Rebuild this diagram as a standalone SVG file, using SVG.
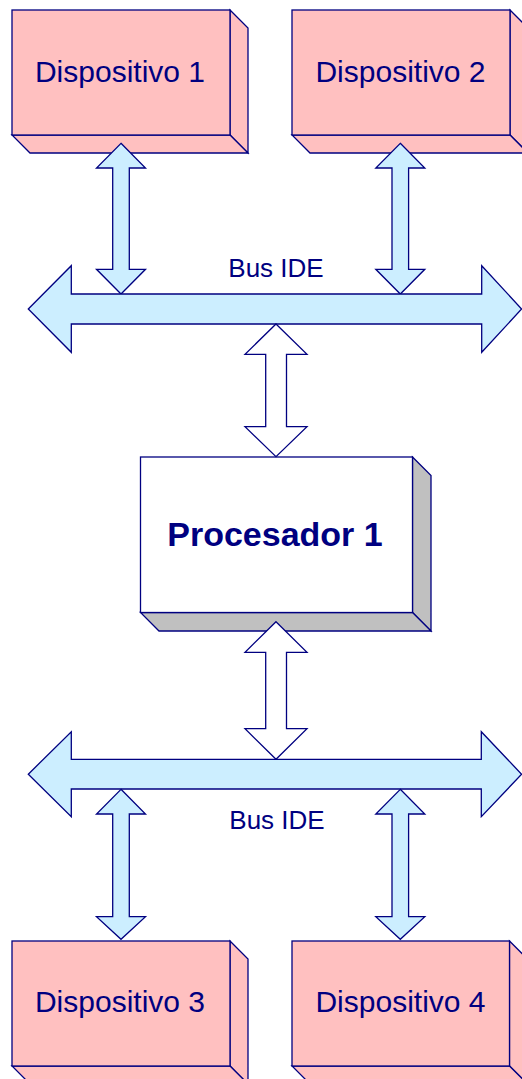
<svg xmlns="http://www.w3.org/2000/svg" width="522" height="1079" viewBox="0 0 522 1079">
<style>
.face{fill:#ffc0c0;stroke:#000080;stroke-width:1.3;stroke-linejoin:miter}
.pface{fill:#ffffff;stroke:#000080;stroke-width:1.3}
.pside{fill:#c0c0c0;stroke:#000080;stroke-width:1.3}
.bus{fill:#cceeff;stroke:#000080;stroke-width:1.3}
.warrow{fill:#ffffff;stroke:#000080;stroke-width:1.3}
.lbl{font-family:"Liberation Sans",Arial,sans-serif;fill:#000080;text-anchor:middle}
.dev{font-size:30px}
.buslbl{font-size:26px}
.proc{font-size:34px;font-weight:bold}
</style>
<g id="dispositivo1">
<polygon class="face" points="230,10 248,28 248,153 230,135"/>
<polygon class="face" points="12,135 230,135 248,153 30,153"/>
<rect class="face" x="12" y="10" width="218" height="125"/>
<text class="lbl dev" x="120" y="81.7">Dispositivo 1</text>
</g>
<g id="dispositivo2">
<polygon class="face" points="510,10 528,28 528,153 510,135"/>
<polygon class="face" points="292,135 510,135 528,153 310,153"/>
<rect class="face" x="292" y="10" width="218" height="125"/>
<text class="lbl dev" x="400.5" y="81.7">Dispositivo 2</text>
</g>
<g id="procesador1">
<polygon class="pside" points="412.5,457 431,475.5 431,631 412.5,612.5"/>
<polygon class="pside" points="140.5,612.5 412.5,612.5 431,631 159,631"/>
<rect class="pface" x="140.5" y="457" width="272" height="155.5"/>
<text class="lbl proc" x="275" y="546">Procesador 1</text>
</g>
<g id="dispositivo3">
<polygon class="face" points="230,941 248,959 248,1084 230,1066"/>
<polygon class="face" points="12,1066 230,1066 248,1084 30,1084"/>
<rect class="face" x="12" y="941" width="218" height="125"/>
<text class="lbl dev" x="120" y="1011.7">Dispositivo 3</text>
</g>
<g id="dispositivo4">
<polygon class="face" points="509.5,941 527.5,959 527.5,1084 509.5,1066"/>
<polygon class="face" points="292,1066 509.5,1066 527.5,1084 310,1084"/>
<rect class="face" x="292" y="941" width="217.5" height="125"/>
<text class="lbl dev" x="400.5" y="1011.7">Dispositivo 4</text>
</g>
<g id="connectors">
<polygon class="bus" points="121,143.3 145.5,168 129.3,168 129.3,269.3 145.5,269.3 121,294 96.5,269.3 112.7,269.3 112.7,168 96.5,168"/>
<polygon class="bus" points="400.3,143.3 424.8,168 408.6,168 408.6,269.3 424.8,269.3 400.3,294 375.8,269.3 392,269.3 392,168 375.8,168"/>
<polygon class="bus" points="28.3,309 71.3,265.7 71.3,294 481.7,294 481.7,265.7 521.6,309 481.7,352.3 481.7,324 71.3,324 71.3,352.3"/>
<polygon class="warrow" points="276,324 307,354.3 286.5,354.3 286.5,426.7 307,426.7 276,456.7 245,426.7 265.7,426.7 265.7,354.3 245,354.3"/>
<polygon class="warrow" points="276,621.7 307,652.3 286.5,652.3 286.5,728.7 307,728.7 276,759.3 245,728.7 265.7,728.7 265.7,652.3 245,652.3"/>
<polygon class="bus" points="28.3,774.2 71.3,731.7 71.3,759.3 481.3,759.3 481.3,731.7 521.6,774.2 481.3,816.7 481.3,789 71.3,789 71.3,816.7"/>
<polygon class="bus" points="121,789.3 145.5,814 129.3,814 129.3,916.7 145.5,916.7 121,939.3 96.5,916.7 112.7,916.7 112.7,814 96.5,814"/>
<polygon class="bus" points="400.3,789.3 424.8,814 408.6,814 408.6,916.7 424.8,916.7 400.3,939.3 375.8,916.7 392,916.7 392,814 375.8,814"/>
<text class="lbl buslbl" x="276" y="276.7">Bus IDE</text>
<text class="lbl buslbl" x="277" y="829">Bus IDE</text>
</g>
</svg>
